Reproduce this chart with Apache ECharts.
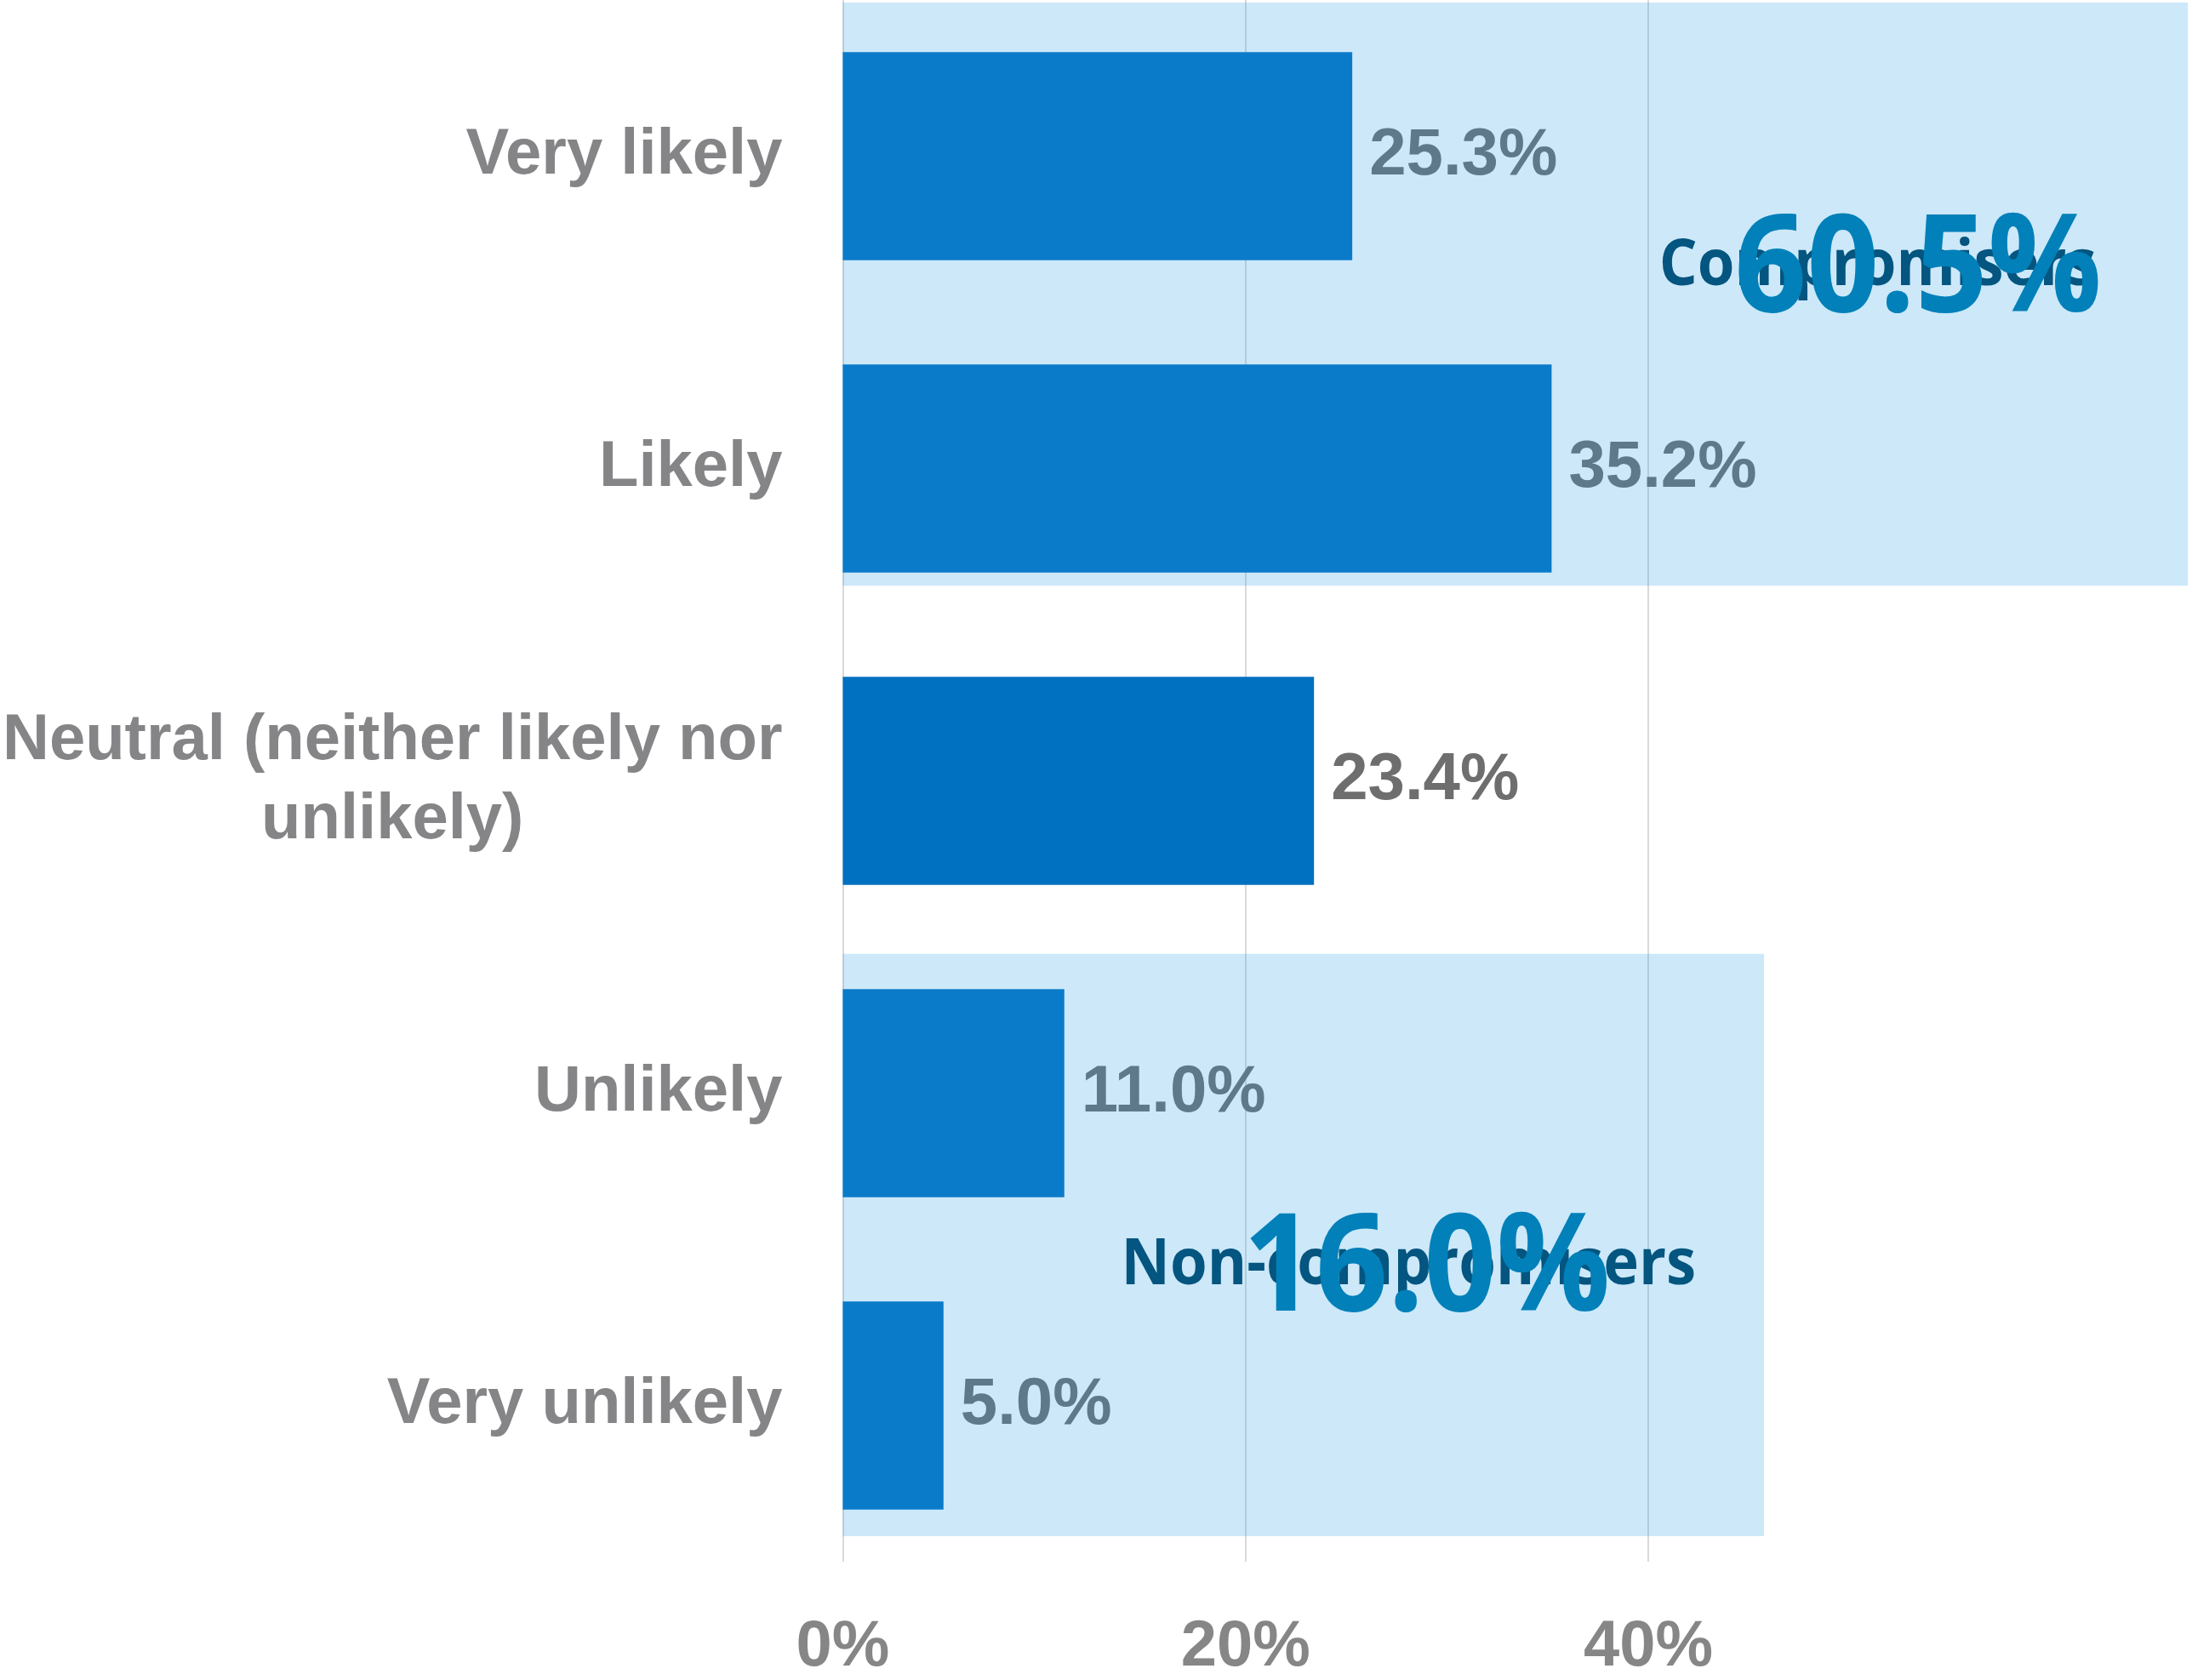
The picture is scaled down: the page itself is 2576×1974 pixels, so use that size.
<!DOCTYPE html>
<html>
<head>
<meta charset="utf-8">
<script src="https://cdn.jsdelivr.net/npm/echarts@6/dist/echarts.min.js"></script>
<style>
  html, body { margin: 0; padding: 0; background: #ffffff; }
  #chart { width: 2576px; height: 1974px; }
</style>
</head>
<body>
<div id="chart"></div>
<script>
// Survey answers, top to bottom
const categories = [
  'Very likely',
  'Likely',
  'Neutral (neither likely nor unlikely)',
  'Unlikely',
  'Very unlikely'
];
const shares = [25.3, 35.2, 23.4, 11.0, 5.0];

// Horizontal axis ticks (percent)
const tickValues = [0, 20, 40];

// Respondent groups highlighted by shaded bands
const groupNames = ['Compromisers', 'Non-compromisers'];
const groupTotals = [60.5, 16.0];
const groupFirst = [0, 3];
const groupLast = [1, 4];

// Band geometry and annotation placement (x in percent, y in category-band units from the top)
const bandLayout = [
  { xEnd: 66.8, top: 0.008, bottom: 1.875, nameAt: [51.4, 0.853], totalAt: [53.4, 0.872] },
  { xEnd: 45.75, top: 3.054, bottom: 4.918, nameAt: [28.1, 4.053], totalAt: [29.0, 4.073] }
];

const LABEL_FONT = 'Liberation Sans';
const NOTE_FONT = 'Open Sans';

const chart = echarts.init(document.getElementById('chart'), null, { renderer: 'canvas' });

function wrapCategory(label) {
  if (label.length <= 24) return label;
  const cut = label.lastIndexOf(' ');
  return '{c|' + label.slice(0, cut) + '}\n{c|' + label.slice(cut + 1) + '}';
}

function renderBand(params, api) {
  const i = params.dataIndex;
  const lay = bandLayout[i];
  const origin = api.coord([0, 0]);
  const unit = api.size([1, 1]);
  const band = unit[1];
  const top0 = origin[1] - band / 2;
  const x0 = origin[0];
  const yOf = (u) => top0 + u * band;
  const xOf = (v) => x0 + v * unit[0];

  const y1 = yOf(lay.top);
  const y2 = yOf(lay.bottom);

  return {
    type: 'group',
    children: [
      {
        type: 'rect',
        shape: { x: x0, y: y1, width: xOf(lay.xEnd) - x0, height: y2 - y1 },
        style: { fill: 'rgba(42,160,231,0.238)' }
      },
      {
        type: 'text',
        x: xOf(lay.nameAt[0]),
        y: yOf(lay.nameAt[1]),
        scaleX: 0.93,
        style: {
          text: groupNames[i],
          fill: '#04557f',
          fontFamily: NOTE_FONT,
          fontWeight: 'bold',
          fontSize: 76,
          align: 'center',
          verticalAlign: 'middle'
        }
      },
      {
        type: 'text',
        x: xOf(lay.totalAt[0]),
        y: yOf(lay.totalAt[1]),
        scaleX: 0.93,
        style: {
          text: groupTotals[i].toFixed(1) + '%',
          fill: '#0180b9',
          fontFamily: NOTE_FONT,
          fontWeight: 'bold',
          fontSize: 160,
          align: 'center',
          verticalAlign: 'middle'
        }
      }
    ]
  };
}

const option = {
  backgroundColor: '#ffffff',
  animation: false,
  grid: { left: 990, right: 639, top: 0, bottom: 131, containLabel: false },
  xAxis: {
    type: 'value',
    min: tickValues[0],
    max: tickValues[tickValues.length - 1],
    interval: tickValues[1] - tickValues[0],
    axisLine: { show: false },
    axisTick: { show: false },
    splitLine: { show: true, lineStyle: { color: '#d9d9d9', width: 2 } },
    axisLabel: {
      formatter: '{value}%',
      color: '#868686',
      fontFamily: LABEL_FONT,
      fontWeight: 'bold',
      fontSize: 76,
      margin: 63
    }
  },
  yAxis: {
    type: 'category',
    inverse: true,
    data: categories,
    axisLine: { show: false },
    axisTick: { show: false },
    splitLine: { show: false },
    axisLabel: {
      formatter: wrapCategory,
      color: '#858487',
      fontFamily: LABEL_FONT,
      fontWeight: 'bold',
      fontSize: 76,
      margin: 71,
      rich: {
        c: {
          align: 'center',
          color: '#858487',
          fontFamily: LABEL_FONT,
          fontWeight: 'bold',
          fontSize: 76,
          lineHeight: 93
        }
      }
    }
  },
  series: [
    {
      type: 'bar',
      z: 2,
      data: shares,
      barCategoryGap: '33.4%',
      itemStyle: { color: '#0070c0' },
      label: {
        show: true,
        position: 'right',
        distance: 20,
        formatter: (p) => p.value.toFixed(1) + '%',
        color: '#6e6e6e',
        fontFamily: LABEL_FONT,
        fontWeight: 'bold',
        fontSize: 78
      }
    },
    {
      type: 'custom',
      z: 5,
      clip: false,
      silent: true,
      renderItem: renderBand,
      encode: { x: 0, y: 1 },
      data: groupFirst.map((f, i) => [0, f, groupLast[i], groupTotals[i]])
    }
  ]
};

chart.setOption(option);
</script>
</body>
</html>
